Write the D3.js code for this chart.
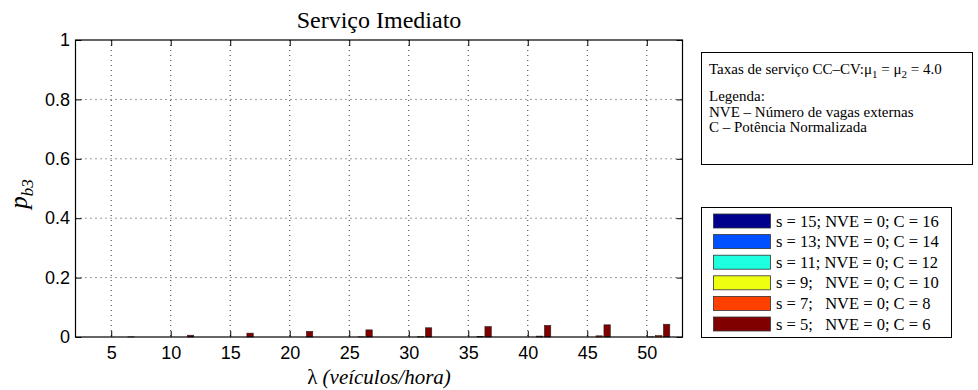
<!DOCTYPE html>
<html><head><meta charset="utf-8">
<script src="https://cdn.jsdelivr.net/npm/d3@7"></script>
<style>body{margin:0;background:#fff}svg{display:block}</style>
</head><body>
<svg id="c" width="978" height="390"></svg>
<script>
// ---- data ----
const lambdas = [5,10,15,20,25,30,35,40,45,50];
const seriesNames = ["s = 15; NVE = 0; C = 16","s = 13; NVE = 0; C = 14","s = 11; NVE = 0; C = 12","s = 9;   NVE = 0; C = 10","s = 7;   NVE = 0; C = 8","s = 5;   NVE = 0; C = 6"];
const s15 = [0,0,0,0,0,0,0,0,0,0];
const s13 = [0,0,0,0,0,0,0,0,0,0];
const s11 = [0,0,0,0,0,0,0,0,0,0];
const s9  = [0,0,0,0,0,0,0,0,0,0.0005];
const s7  = [0,0,0,0,0.0005,0.001,0.002,0.003,0.004,0.005];
const s5  = [0.0005,0.006,0.013,0.019,0.024,0.031,0.035,0.039,0.041,0.043];
const seriesValues = [s15,s13,s11,s9,s7,s5];
const colors = ["#00008c","#0050ff","#1effe0","#efff10","#ff4000","#800000"];
const xTicks = [5,10,15,20,25,30,35,40,45,50];
const yTicks = [0,0.2,0.4,0.6,0.8,1];

// ---- layout ----
const svg = d3.select("#c");
const L=75.5, R=682.5, T=40, B=337;
const x = d3.scaleLinear().domain([2,53]).range([L,R]);
const y = d3.scaleLinear().domain([0,1]).range([B,T]);
const sans = "'Liberation Sans', Arial, sans-serif";
const serif = "'Liberation Serif', 'Times New Roman', serif";

// grid
const g = svg.append("g");
g.selectAll(".gx").data(xTicks).join("line")
  .attr("x1",d=>x(d)).attr("x2",d=>x(d)).attr("y1",T).attr("y2",B)
  .attr("stroke","#000").attr("stroke-width",0.8).attr("stroke-dasharray","1,4");
g.selectAll(".gy").data(yTicks.slice(1,-1)).join("line")
  .attr("y1",d=>y(d)).attr("y2",d=>y(d)).attr("x1",L).attr("x2",R)
  .attr("stroke","#000").attr("stroke-width",0.8).attr("stroke-dasharray","1,4");

// bars (grouped, MATLAB style)
const groupW = 4, nS = seriesValues.length, slot = groupW/nS, bw = slot*0.8;
seriesValues.forEach((vals,i)=>{
  svg.append("g").selectAll("rect").data(vals).join("rect")
    .attr("x",(d,j)=>x(lambdas[j] + (i-(nS-1)/2)*slot - bw/2))
    .attr("width",(d,j)=>x(bw)-x(0))
    .attr("y",d=>y(d))
    .attr("height",d=>Math.max(0,B-y(d)))
    .attr("fill",colors[i]).attr("stroke","#222").attr("stroke-width",0.6);
});

// axes box
svg.append("rect").attr("x",L).attr("y",T).attr("width",R-L).attr("height",B-T)
  .attr("fill","none").attr("stroke","#000").attr("stroke-width",1.2);

// axes with inward ticks
const ax = svg.append("g").attr("transform",`translate(0,${B})`)
  .call(d3.axisBottom(x).tickValues(xTicks).tickSize(-6).tickPadding(9).tickFormat(d3.format("d")));
const axTop = svg.append("g").attr("transform",`translate(0,${T})`)
  .call(d3.axisTop(x).tickValues(xTicks).tickSize(-6).tickFormat(""));
const ay = svg.append("g").attr("transform",`translate(${L},0)`)
  .call(d3.axisLeft(y).tickValues(yTicks).tickSize(-6).tickPadding(5.5).tickFormat(d=>d===0?"0":d===1?"1":d3.format(".1f")(d)));
const ayR = svg.append("g").attr("transform",`translate(${R},0)`)
  .call(d3.axisRight(y).tickValues(yTicks).tickSize(-6).tickFormat(""));
[ax,axTop,ay,ayR].forEach(a=>{a.select(".domain").remove();a.selectAll("line").attr("stroke","#000");});
[ax,ay].forEach(a=>a.selectAll("text").attr("font-family",sans).attr("font-size",18).attr("fill","#000"));

// title
svg.append("text").attr("x",(L+R)/2).attr("y",28).attr("text-anchor","middle")
  .attr("font-family",serif).attr("font-size",24).text("Serviço Imediato");

// x label
const xl = svg.append("text").attr("x",(L+R)/2).attr("y",384).attr("text-anchor","middle")
  .attr("font-family",serif).attr("font-size",21);
xl.append("tspan").text("λ ");
xl.append("tspan").attr("font-style","italic").text("(veículos/hora)");

// y label
const yl = svg.append("text").attr("transform","translate(27,194) rotate(-90)").attr("text-anchor","middle")
  .attr("font-family",serif).attr("font-style","italic").attr("font-size",25);
yl.append("tspan").text("p");
yl.append("tspan").attr("font-size",17).attr("dy",6).text("b3");

// info box
svg.append("rect").attr("x",701.5).attr("y",52.5).attr("width",271).attr("height",112)
  .attr("fill","#fff").attr("stroke","#000").attr("stroke-width",1);
const info = svg.append("g").attr("font-family",serif).attr("font-size",15).attr("fill","#000");
const t1 = info.append("text").attr("x",709).attr("y",74);
t1.append("tspan").text("Taxas de serviço CC–CV:μ");
t1.append("tspan").attr("font-size",11).attr("dy",4).text("1");
t1.append("tspan").attr("dy",-4).text(" = μ");
t1.append("tspan").attr("font-size",11).attr("dy",4).text("2");
t1.append("tspan").attr("dy",-4).text(" = 4.0");
info.append("text").attr("x",709).attr("y",101).text("Legenda:");
info.append("text").attr("x",709).attr("y",116.5).text("NVE – Número de vagas externas");
info.append("text").attr("x",709).attr("y",132).text("C – Potência Normalizada");

// legend
svg.append("rect").attr("x",701.5).attr("y",207.5).attr("width",250).attr("height",130)
  .attr("fill","#fff").attr("stroke","#000").attr("stroke-width",1);
const lg = svg.append("g");
seriesNames.forEach((n,i)=>{
  const cy = 221 + i*20.6;
  lg.append("rect").attr("x",713.5).attr("y",cy-7).attr("width",57).attr("height",14)
    .attr("fill",colors[i]).attr("stroke","#333").attr("stroke-width",0.8);
  lg.append("text").attr("x",776).attr("y",cy+5.5).attr("font-family",serif).attr("font-size",16.5)
    .style("white-space","pre").attr("xml:space","preserve").text(n);
});
</script>
</body></html>
